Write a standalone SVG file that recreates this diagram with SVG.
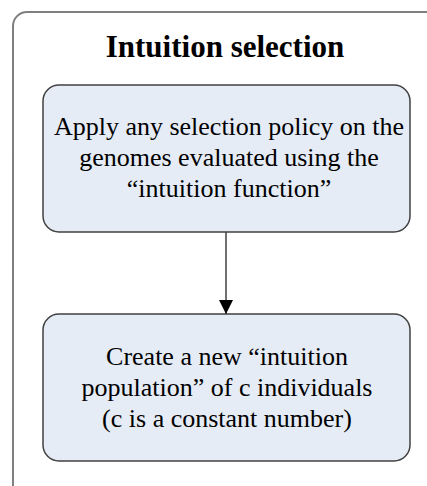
<svg xmlns="http://www.w3.org/2000/svg" width="427" height="486" viewBox="0 0 427 486">
<style>
.frame{fill:#ffffff;stroke:#7f7f7f;stroke-width:2}
.node{fill:#e6ecf6;stroke:#404040;stroke-width:1.5}
.t{font-family:'Liberation Serif','Times New Roman',serif;font-size:26px;fill:#000;text-anchor:middle}
.title{font-family:'Liberation Serif','Times New Roman',serif;font-size:31px;font-weight:bold;fill:#000;text-anchor:middle}
.edge{stroke:#404040;stroke-width:1.5;fill:none}
</style>
<defs>
<marker id="arr" markerWidth="14" markerHeight="15" refX="14" refY="7" orient="auto" markerUnits="userSpaceOnUse">
<path d="M0,0 L14,7 L0,14 Z" fill="#000"/>
</marker>
</defs>
<g id="frame">
<rect class="frame" x="13" y="12" width="440" height="500" rx="14" ry="14"/>
<text class="title" x="225" y="57">Intuition selection</text>
</g>
<g id="node1">
<rect class="node" x="43" y="85" width="367" height="147" rx="16" ry="16"/>
<text class="t" x="229" y="135">Apply any selection policy on the</text>
<text class="t" x="229" y="166">genomes evaluated using the</text>
<text class="t" x="229" y="197">“intuition function”</text>
</g>
<g id="node2">
<rect class="node" x="43" y="314" width="367" height="147" rx="16" ry="16"/>
<text class="t" x="227" y="365">Create a new “intuition</text>
<text class="t" x="227" y="396">population” of c individuals</text>
<text class="t" x="227" y="427">(c is a constant number)</text>
</g>
<g id="connectors">
<line class="edge" x1="226" y1="232" x2="226" y2="314" marker-end="url(#arr)"/>
</g>
</svg>
